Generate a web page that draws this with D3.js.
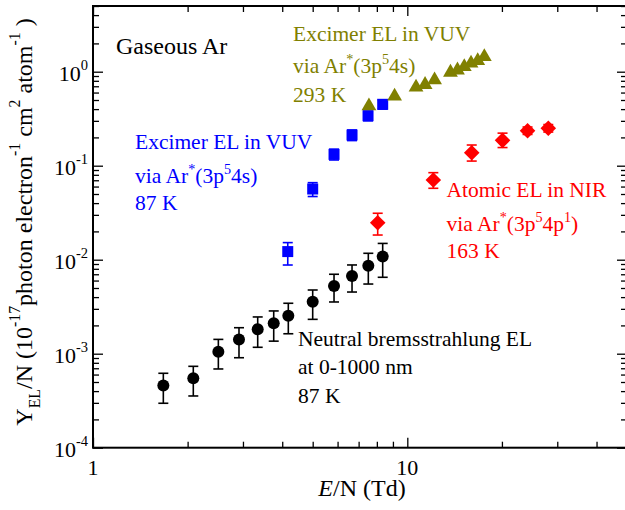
<!DOCTYPE html>
<html>
<head>
<meta charset="utf-8">
<script src="https://cdn.jsdelivr.net/npm/d3@7"></script>
</head>
<body style="margin:0">
<div id="chart"></div>
<script>
// values, E/N in Td, yield in 1e-17 photon electron^-1 cm^2 atom^-1
const bremsEN = [1.674, 2.085, 2.505, 2.914, 3.342, 3.758, 4.182, 5.0, 5.846, 6.67, 7.515, 8.35];
const bremsY  = [4.59e-4, 5.47e-4, 1.05e-3, 1.42e-3, 1.82e-3, 2.11e-3, 2.54e-3, 3.58e-3, 5.25e-3, 6.71e-3, 8.64e-3, 1.08e-2];
const bremsLo = [2.97e-4, 3.55e-4, 6.88e-4, 9.06e-4, 1.17e-3, 1.36e-3, 1.63e-3, 2.32e-3, 3.55e-3, 4.53e-3, 5.51e-3, 6.50e-3];
const bremsHi = [6.19e-4, 7.34e-4, 1.42e-3, 1.89e-3, 2.46e-3, 2.85e-3, 3.44e-3, 4.76e-3, 7.0e-3, 8.79e-3, 1.17e-2, 1.49e-2];

const vuv87EN = [4.165, 5.0, 5.846, 6.67, 7.50, 8.35];
const vuv87Y  = [1.22e-2, 5.65e-2, 0.132, 0.212, 0.34, 0.45];
const vuv87Lo = [8.78e-3, 4.7e-2, 0.115, 0.185, 0.30, 0.40];
const vuv87Hi = [1.52e-2, 6.6e-2, 0.150, 0.240, 0.38, 0.50];

const vuv293EN = [7.55, 9.11, 10.66, 11.39, 12.21, 13.72, 14.44, 15.18, 15.95, 16.75, 17.58];
const vuv293Y  = [0.432, 0.548, 0.684, 0.729, 0.816, 0.984, 1.04, 1.13, 1.23, 1.31, 1.44];

const nirEN = [8.05, 12.1, 16.03, 20.09, 24.13, 28.09];
const nirY  = [2.47e-2, 7.04e-2, 0.1375, 0.186, 0.2357, 0.25];
const nirLo = [1.83e-2, 5.75e-2, 0.112, 0.156, 0.215, 0.228];
const nirHi = [3.12e-2, 8.43e-2, 0.166, 0.222, 0.258, 0.274];

const xMajorTicks = [1, 10];
const xTickLabels = ["1", "10"];
const yMajorTicks = [1e-4, 1e-3, 1e-2, 1e-1, 1];
const yTickExponents = ["-4", "-3", "-2", "-1", "0"];

const fontStack = "Liberation Serif, Tinos, Times New Roman, FreeSerif, serif";
const nbsp = "\u00a0";

const margin = { top: 6, left: 93 },
    width = 534,
    height = 441.7;

const svg = d3.select("#chart")
    .append("svg")
    .attr("width", 625)
    .attr("height", 510)
    .attr("font-family", fontStack);

const plot = svg.append("g")
    .attr("transform", `translate(${margin.left}, ${margin.top})`);

const x = d3.scaleLog().domain([1, 50]).range([0, width]);
const y = d3.scaleLog().domain([1e-4, 5]).range([height, 0]);

const isMajor = v => Math.abs(Math.log10(v) - Math.round(Math.log10(v))) < 1e-9;
const xMinor = x.ticks().filter(v => !isMajor(v));
const yMinor = y.ticks().filter(v => !isMajor(v));

// ticks point inward on all four sides
function tickAxis(maker, scale, values, size, transform) {
    const g = plot.append("g")
        .attr("transform", transform)
        .call(maker(scale).tickValues(values).tickSizeInner(-size).tickSizeOuter(0).tickFormat(""));
    g.select(".domain").remove();
    g.attr("font-family", fontStack);
    g.selectAll(".tick line").attr("stroke", "#000").attr("stroke-width", 1.3);
}
tickAxis(d3.axisBottom, x, xMajorTicks, 10, `translate(0,${height})`);
tickAxis(d3.axisBottom, x, xMinor, 6, `translate(0,${height})`);
tickAxis(d3.axisTop, x, xMajorTicks, 10, "translate(0,0)");
tickAxis(d3.axisTop, x, xMinor, 6, "translate(0,0)");
tickAxis(d3.axisLeft, y, yMajorTicks, 10, "translate(0,0)");
tickAxis(d3.axisLeft, y, yMinor, 6, "translate(0,0)");
tickAxis(d3.axisRight, y, yMajorTicks, 10, `translate(${width},0)`);
tickAxis(d3.axisRight, y, yMinor, 6, `translate(${width},0)`);

plot.append("rect")
    .attr("width", width)
    .attr("height", height)
    .attr("fill", "none")
    .attr("stroke", "#000")
    .attr("stroke-width", 2);

// text with super/subscripts: parts = [[string, "sup"|"sub"|null], ...]
function richText(sel, px, py, parts, size, color, anchor, raise) {
    const t = sel.append("text")
        .attr("x", px)
        .attr("y", py)
        .attr("font-family", fontStack)
        .attr("font-size", size)
        .attr("fill", color)
        .attr("text-anchor", anchor || "start");
    const up = raise || 0.42;
    let shift = 0;
    parts.forEach(([s, kind]) => {
        const target = kind === "sup" ? -up * size : kind === "sub" ? 0.35 * size : 0;
        t.append("tspan")
            .attr("dy", target - shift)
            .attr("font-family", fontStack)
            .attr("font-size", kind ? size * 0.66 : size)
            .text(s.replace(/^ /, nbsp));
        shift = target;
    });
    return t;
}

// tick labels
xMajorTicks.forEach((v, i) => {
    plot.append("text")
        .attr("x", x(v))
        .attr("y", height + 27)
        .attr("text-anchor", "middle")
        .attr("font-family", fontStack)
        .attr("font-size", 22)
        .text(xTickLabels[i]);
});
yMajorTicks.forEach((v, i) => {
    richText(plot, -5, y(v) + 9, [["10", null], [yTickExponents[i], "sup"]], 22, "#000", "end", 0.5);
});

// axis titles
const xt = plot.append("text")
    .attr("x", 269)
    .attr("y", 496 - margin.top)
    .attr("text-anchor", "middle")
    .attr("font-family", fontStack)
    .attr("font-size", 24);
xt.append("tspan").attr("font-style", "italic").text("E");
xt.append("tspan").text("/N (Td)");

richText(svg.append("g").attr("transform", "translate(32,222) rotate(-90)"), 0, 0,
    [["Y", null], ["EL", "sub"], ["/N (10", null], ["-17", "sup"], ["photon electron", null],
     ["-1", "sup"], [" cm", null], ["2", "sup"], [" atom", null], ["-1", "sup"], [" )", null]],
    24, "#000", "middle", 0.5);

// error bars
function errorBars(xs, lo, hi, color) {
    const g = plot.append("g").attr("stroke", color).attr("stroke-width", 1.6);
    g.selectAll("line.v").data(xs).join("line")
        .attr("x1", d => x(d)).attr("x2", d => x(d))
        .attr("y1", (d, i) => y(lo[i])).attr("y2", (d, i) => y(hi[i]));
    [lo, hi].forEach(arr => {
        g.selectAll(null).data(xs).join("line")
            .attr("x1", d => x(d) - 5).attr("x2", d => x(d) + 5)
            .attr("y1", (d, i) => y(arr[i])).attr("y2", (d, i) => y(arr[i]));
    });
}
errorBars(bremsEN, bremsLo, bremsHi, "#000");
errorBars(vuv87EN, vuv87Lo, vuv87Hi, "#0000ff");
errorBars(nirEN, nirLo, nirHi, "#ff0000");

// markers
plot.append("g").selectAll("circle")
    .data(bremsEN)
    .join("circle")
    .attr("cx", d => x(d))
    .attr("cy", (d, i) => y(bremsY[i]))
    .attr("r", 6)
    .attr("fill", "#000");

plot.append("g").selectAll("path")
    .data(vuv87EN)
    .join("path")
    .attr("d", d3.symbol(d3.symbolSquare, 121))
    .attr("transform", (d, i) => `translate(${x(d)},${y(vuv87Y[i])})`)
    .attr("fill", "#0000ff");

plot.append("g").selectAll("path")
    .data(vuv293EN)
    .join("path")
    .attr("d", d3.symbol(d3.symbolTriangle, 95))
    .attr("transform", (d, i) => `translate(${x(d)},${y(vuv293Y[i])})`)
    .attr("fill", "#808000");

plot.append("g").selectAll("path")
    .data(nirEN)
    .join("path")
    .attr("d", d3.symbol(d3.symbolSquare, 121))
    .attr("transform", (d, i) => `translate(${x(d)},${y(nirY[i])}) rotate(45)`)
    .attr("fill", "#ff0000");

// annotations (page coordinates)
const notes = svg.append("g");
notes.append("text").attr("x", 116).attr("y", 54).attr("font-family", fontStack).attr("font-size", 24).text("Gaseous Ar");

richText(notes, 293, 41, [["Excimer EL in VUV", null]], 21.5, "#808000");
richText(notes, 293, 73, [["via Ar", null], ["*", "sup"], ["(3p", null], ["5", "sup"], ["4s)", null]], 21.5, "#808000");
richText(notes, 293, 102, [["293 K", null]], 21.5, "#808000");

richText(notes, 135, 149, [["Excimer EL in VUV", null]], 21.5, "#0000ff");
richText(notes, 135, 183, [["via Ar", null], ["*", "sup"], ["(3p", null], ["5", "sup"], ["4s)", null]], 21.5, "#0000ff");
richText(notes, 135, 210, [["87 K", null]], 21.5, "#0000ff");

richText(notes, 446.5, 197, [["Atomic EL in NIR", null]], 21.5, "#ff0000");
richText(notes, 446.5, 231, [["via Ar", null], ["*", "sup"], ["(3p", null], ["5", "sup"], ["4p", null], ["1", "sup"], [")", null]], 21.5, "#ff0000");
richText(notes, 446.5, 258, [["163 K", null]], 21.5, "#ff0000");

richText(notes, 298, 346, [["Neutral bremsstrahlung EL", null]], 21.5, "#000");
richText(notes, 298, 374, [["at 0-1000 nm", null]], 21.5, "#000");
richText(notes, 298, 403, [["87 K", null]], 21.5, "#000");
</script>
</body>
</html>
